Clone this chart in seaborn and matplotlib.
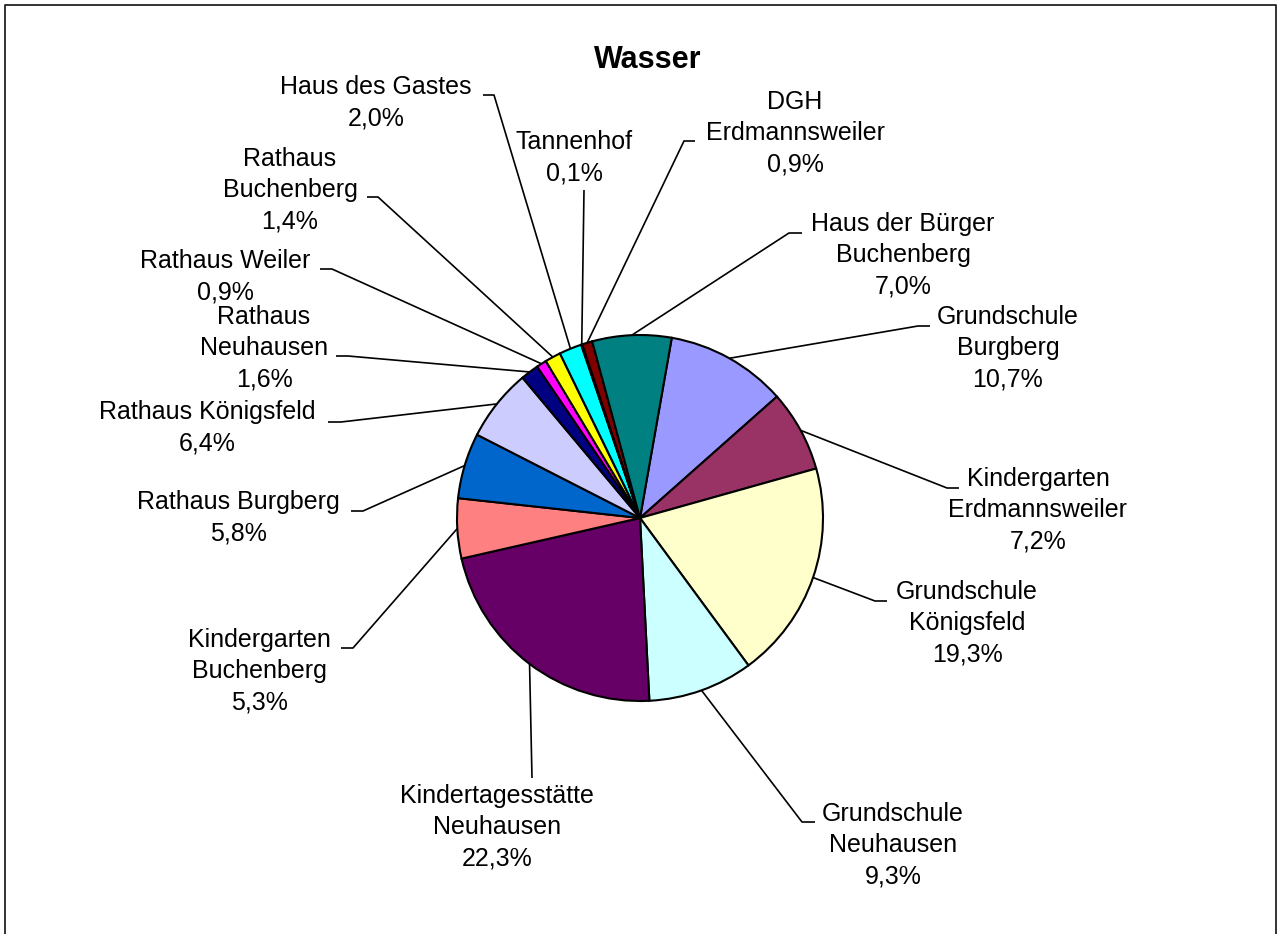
import numpy as np
import matplotlib
matplotlib.use("Agg")
import matplotlib.pyplot as plt
import seaborn as sns

sns.set_theme(style="white")
plt.rcParams['font.family'] = ['Liberation Sans', 'DejaVu Sans']
plt.rcParams['text.color'] = 'black'

# data (order as in the Excel sheet, clockwise)
labels = ["Grundschule\nBurgberg", "Kindergarten\nErdmannsweiler", "Grundschule\nKönigsfeld",
          "Grundschule\nNeuhausen", "Kindertagesstätte\nNeuhausen", "Kindergarten\nBuchenberg",
          "Rathaus Burgberg", "Rathaus Königsfeld", "Rathaus\nNeuhausen", "Rathaus Weiler",
          "Rathaus\nBuchenberg", "Haus des Gastes", "Tannenhof", "DGH\nErdmannsweiler",
          "Haus der Bürger\nBuchenberg"]
shares = [10.7, 7.2, 19.3, 9.3, 22.3, 5.3, 5.8, 6.4, 1.6, 0.9, 1.4, 2.0, 0.1, 0.9, 7.0]
colors = ["#9999FF", "#993366", "#FFFFCC", "#CCFFFF", "#660066", "#FF8080", "#0066CC",
          "#CCCCFF", "#000080", "#FF00FF", "#FFFF00", "#00FFFF", "#800080", "#800000", "#008080"]

# label layout in pixels (from top-left): text centre, leader start, tick length
label_xy = [(1008, 348), (1038, 510), (967, 623), (893, 845), (497, 827), (259, 671),
            (238, 518), (207, 428), (264, 348), (225, 277), (290, 190), (376, 103),
            (574, 158), (795, 133), (903, 255)]
leader_start = [(930, 326), (959, 488), (887, 601), (815, 822), (532, 778), (341, 648),
                (351, 511), (328, 422), (336, 356), (320, 269), (367, 197), (483, 95),
                (584, 190), (695, 141), (802, 233)]
tick = [-12, -12, -12, -13, 0, 12, 12, 13, 12, 12, 11, 11, 0, -11, -13]

W, H = 1280, 934
fig = plt.figure(figsize=(W / 100, H / 100), dpi=100)
ax = fig.add_axes([0, 0, 1, 1])

cx, cy, r = 640, H - 518, 183
wedges, _ = ax.pie(shares, colors=colors, startangle=80, counterclock=False,
                   center=(cx, cy), radius=r, frame=True,
                   wedgeprops=dict(edgecolor='black', linewidth=1.5))
ax.set_xlim(0, W)
ax.set_ylim(0, H)
ax.set_aspect('equal')
ax.axis('off')

total = sum(shares)
for w, lab, val, (tx, ty), (sx, sy), dx in zip(wedges, labels, shares, label_xy, leader_start, tick):
    pct = f"{val / total * 100:.1f}".replace('.', ',') + "%"
    ax.text(tx, H - ty, f"{lab}\n{pct}", ha='center', va='center', fontsize=18,
            linespacing=1.37, color='black')
    mid = np.deg2rad((w.theta1 + w.theta2) / 2)
    ex, ey = cx + r * np.cos(mid), cy + r * np.sin(mid)
    ax.plot([sx, sx + dx, ex], [H - sy, H - sy, ey], color='black', lw=1.2,
            solid_capstyle='butt', zorder=0.5)

ax.text(648, H - 60, "Wasser", ha='center', va='center', fontsize=22,
        fontweight='bold', color='black')

# chart area border
ax.plot([5, 5, 1276, 1276], [-10, H - 5, H - 5, -10], color='#222222', lw=1.3, clip_on=False)

fig.savefig("out.png", dpi=100)
